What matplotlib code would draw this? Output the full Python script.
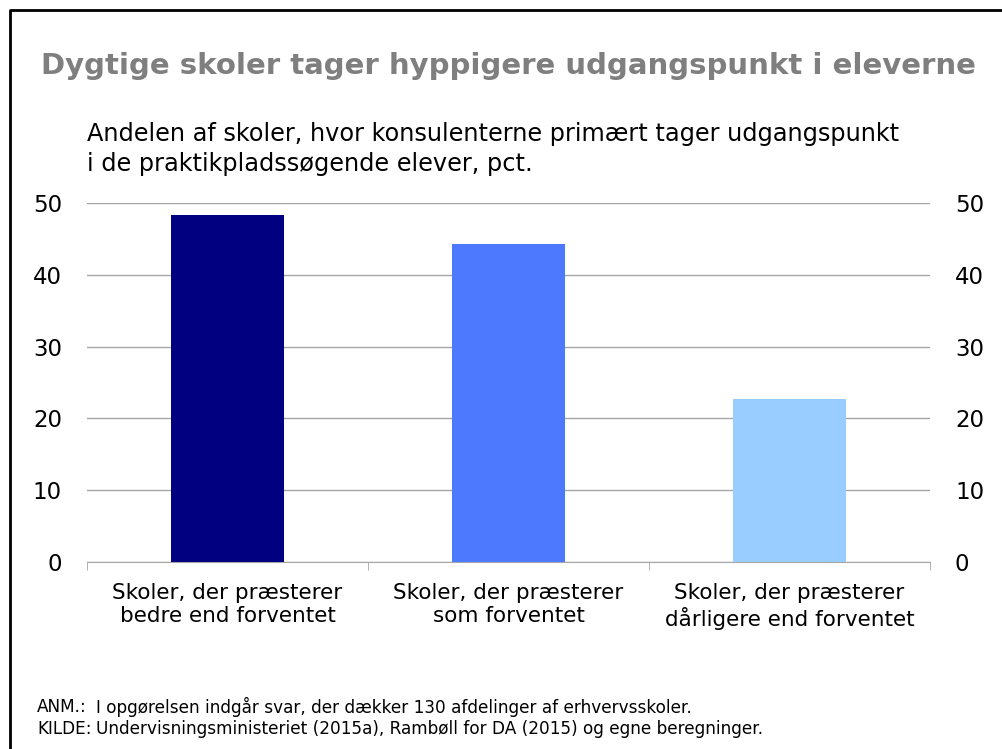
import numpy as np
import matplotlib.pyplot as plt
from matplotlib.lines import Line2D

categories = ["Skoler, der præsterer\nbedre end forventet",
              "Skoler, der præsterer\nsom forventet",
              "Skoler, der præsterer\ndårligere end forventet"]
values = [48.3, 44.3, 22.7]
colors = ['#000080', '#4D79FF', '#99CCFF']
yticks = [0, 10, 20, 30, 40, 50]

W, H = 1003, 749


def fx(px):
    return px / W


def fy(py):
    return 1 - py / H


fig = plt.figure(figsize=(W / 100, H / 100), dpi=100)
plt.rcParams['font.family'] = ['DejaVu Sans']

# frame: only top and left edges fall inside the picture
fig.add_artist(Line2D([fx(10), fx(10), 1.0], [0.0, fy(10), fy(10)],
                      transform=fig.transFigure, color='black', linewidth=2))

ax = fig.add_axes([fx(87), fy(562), fx(930) - fx(87), fy(203) - fy(562)])
x = np.arange(len(values))
ax.bar(x, values, width=0.4, color=colors, zorder=3)
ax.set_xlim(-0.5, 2.5)
ax.set_ylim(0, 50)
ax.set_yticks(yticks)
ax.yaxis.grid(True, color='#a6a6a6', linewidth=1, zorder=0)
for s in ['top', 'left', 'right']:
    ax.spines[s].set_visible(False)
ax.spines['bottom'].set_color('#a6a6a6')
ax.tick_params(axis='y', length=0, labelsize=16.5, pad=18,
               labelleft=True, labelright=True)
ax.set_xticks(x)
ax.set_xticklabels(categories, fontsize=15.5, linespacing=1.2)
ax.tick_params(axis='x', length=0, pad=15)
ax.set_xticks([-0.5, 0.5, 1.5, 2.5], minor=True)
ax.tick_params(axis='x', which='minor', length=6, color='#a6a6a6')

fig.text(fx(508), fy(66), "Dygtige skoler tager hyppigere udgangspunkt i eleverne",
         ha='center', va='center', fontsize=21, fontweight='bold', color='#7f7f7f')
fig.text(fx(87), fy(149), "Andelen af skoler, hvor konsulenterne primært tager udgangspunkt\n"
         "i de praktikpladssøgende elever, pct.",
         ha='left', va='center', fontsize=17.3, linespacing=1.3)
fig.text(fx(37), fy(707), "ANM.:", ha='left', va='center', fontsize=12.2)
fig.text(fx(96), fy(707), "I opgørelsen indgår svar, der dækker 130 afdelinger af erhvervsskoler.",
         ha='left', va='center', fontsize=12.2)
fig.text(fx(37), fy(729), "KILDE:", ha='left', va='center', fontsize=12.2)
fig.text(fx(96), fy(729), "Undervisningsministeriet (2015a), Rambøll for DA (2015) og egne beregninger.",
         ha='left', va='center', fontsize=12.2)

plt.savefig("out.png", dpi=100)
plt.close()
